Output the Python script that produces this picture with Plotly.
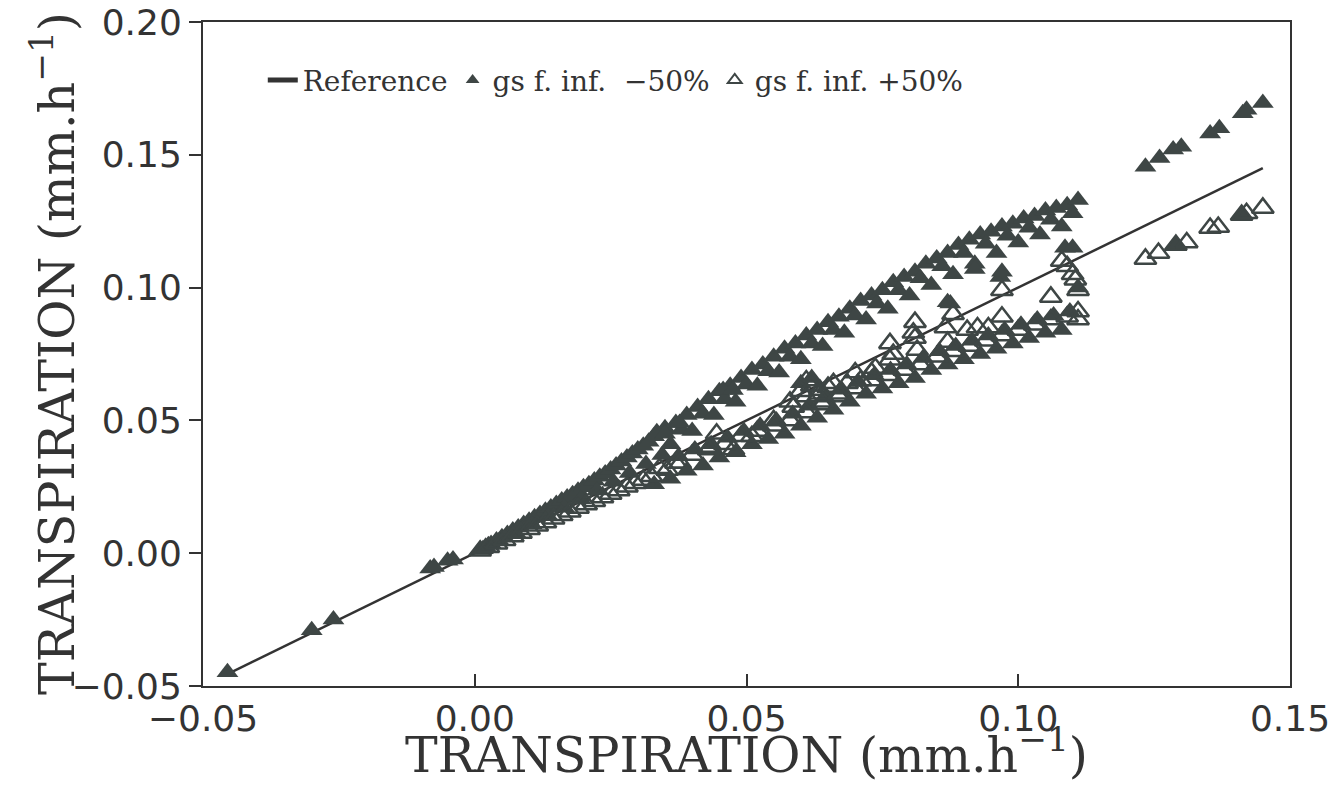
import plotly.graph_objects as go

# ---- data ----
# Reference: simulated vs itself (1:1 line)
ref_x = [-0.0455, -0.030, -0.026, -0.008, -0.005, 0.0, 0.03, 0.06, 0.09, 0.111, 0.1234, 0.145]
ref_y = [-0.0455, -0.030, -0.026, -0.008, -0.005, 0.0, 0.03, 0.06, 0.09, 0.111, 0.1234, 0.145]

# gs f. inf. -50% (filled triangles)
neg_x = [-0.0455, -0.030, -0.026, -0.0082, -0.0075, -0.005, -0.004,
         # dense start, upper row
         0.001, 0.002, 0.003, 0.004, 0.005, 0.006, 0.007, 0.008, 0.009, 0.010,
         0.011, 0.012, 0.013, 0.014, 0.015, 0.016, 0.017, 0.018, 0.019, 0.020,
         0.021, 0.022, 0.023, 0.024, 0.025, 0.026, 0.027, 0.028, 0.029, 0.030,
         0.031, 0.032,
         # dense start, centre row
         0.0015, 0.0045, 0.0075, 0.0105, 0.0135, 0.0165, 0.0195, 0.0225, 0.0255,
         0.0285, 0.0315, 0.0345,
         # upper band, main row
         0.033, 0.035, 0.037, 0.039, 0.041, 0.043, 0.045, 0.047, 0.049, 0.051,
         0.053, 0.055, 0.057, 0.059, 0.061, 0.063, 0.065, 0.067, 0.069, 0.071,
         0.073, 0.075, 0.077, 0.079, 0.081, 0.083, 0.085, 0.087, 0.089, 0.091,
         0.093, 0.095, 0.097, 0.099, 0.101, 0.103, 0.105, 0.107, 0.109, 0.111,
         # upper band, middle row
         0.038, 0.042, 0.046, 0.050, 0.054, 0.058, 0.062, 0.066, 0.070, 0.074,
         0.078, 0.082, 0.086, 0.090, 0.094, 0.098, 0.102, 0.106, 0.110,
         # upper band, lower row
         0.036, 0.040, 0.044, 0.048, 0.052, 0.056, 0.060, 0.064, 0.068, 0.072,
         0.076, 0.080, 0.084, 0.088, 0.092, 0.096, 0.100, 0.104, 0.108,
         # scattered between band and line
         0.0335, 0.035, 0.0377, 0.0457, 0.0475, 0.060, 0.062, 0.0875, 0.087,
         0.092, 0.0967, 0.097, 0.1086, 0.110, 0.111,
         # lower band, bottom row
         0.033, 0.036, 0.039, 0.042, 0.045, 0.048, 0.051, 0.054, 0.057, 0.060,
         0.063, 0.066, 0.069, 0.072, 0.075, 0.078, 0.081, 0.084, 0.087, 0.090,
         0.093, 0.096, 0.099, 0.102, 0.105, 0.108,
         # lower band, second row
         0.0375, 0.0405, 0.0435, 0.0465, 0.0495, 0.0525, 0.0555, 0.0585, 0.0615,
         0.0645, 0.0675, 0.0705, 0.0735, 0.0765, 0.0795, 0.0825, 0.0855, 0.0885,
         0.0915, 0.0945, 0.0975, 0.1005, 0.1035, 0.1065, 0.1095,
         # isolated group upper right
         0.1234, 0.126, 0.1285, 0.130, 0.1353, 0.137, 0.1413, 0.142, 0.145,
         0.129, 0.1411]
neg_y = [-0.0448, -0.029, -0.025, -0.0058, -0.0052, -0.0028, -0.0024,
         0.0012, 0.0024, 0.0035, 0.0048, 0.0060, 0.0072, 0.0085, 0.0097, 0.0110, 0.0122,
         0.0135, 0.0148, 0.0160, 0.0172, 0.0185, 0.0198, 0.0210, 0.0222, 0.0235, 0.0248,
         0.0260, 0.0274, 0.0288, 0.0300, 0.0315, 0.0330, 0.0345, 0.0360, 0.0375, 0.0390,
         0.0405, 0.0420,
         0.0015, 0.0046, 0.0077, 0.0108, 0.0139, 0.0171, 0.0203, 0.0236, 0.0269,
         0.0302, 0.0336, 0.0370,
         0.044, 0.047, 0.049, 0.052, 0.055, 0.058, 0.061, 0.063, 0.066, 0.069,
         0.071, 0.074, 0.077, 0.079, 0.082, 0.084, 0.087, 0.089, 0.092, 0.095,
         0.097, 0.099, 0.102, 0.104, 0.106, 0.109, 0.111, 0.113, 0.116, 0.118,
         0.120, 0.121, 0.123, 0.124, 0.126, 0.127, 0.129, 0.130, 0.131, 0.133,
         0.0465, 0.0525, 0.058, 0.0635, 0.0685, 0.074, 0.079, 0.084, 0.0895, 0.094,
         0.099, 0.1035, 0.108, 0.113, 0.1165, 0.1195, 0.1225, 0.1255, 0.128,
         0.041, 0.046, 0.052, 0.057, 0.063, 0.068, 0.073, 0.078, 0.083, 0.088,
         0.092, 0.097, 0.101, 0.105, 0.109, 0.113, 0.117, 0.120, 0.123,
         0.0455, 0.045, 0.049, 0.0614, 0.0614, 0.064, 0.066, 0.094, 0.0945,
         0.107, 0.104, 0.106, 0.115, 0.115, 0.100,
         0.026, 0.028, 0.031, 0.033, 0.036, 0.038, 0.041, 0.043, 0.045, 0.048,
         0.051, 0.054, 0.057, 0.060, 0.062, 0.064, 0.066, 0.069, 0.071, 0.073,
         0.075, 0.077, 0.079, 0.081, 0.083, 0.084,
         0.0365, 0.039, 0.041, 0.0435, 0.046, 0.048, 0.050, 0.0525, 0.0555,
         0.0585, 0.0615, 0.0645, 0.067, 0.069, 0.071, 0.0735, 0.076, 0.078,
         0.080, 0.082, 0.084, 0.086, 0.088, 0.0895, 0.091,
         0.1455, 0.1488, 0.152, 0.153, 0.158, 0.160, 0.1656, 0.167, 0.1695,
         0.116, 0.1273]

# gs f. inf. +50% (open triangles)
pos_x = [0.001, 0.0025, 0.004, 0.0055, 0.007, 0.0085, 0.010, 0.0115, 0.013,
         0.0145, 0.016, 0.0175, 0.019, 0.0205, 0.022, 0.0235, 0.025, 0.0265,
         0.028, 0.0295, 0.031, 0.0325,
         0.034, 0.037, 0.040, 0.043, 0.046, 0.049, 0.052, 0.055, 0.058, 0.061,
         0.064, 0.067, 0.070, 0.073, 0.076, 0.079, 0.082, 0.085, 0.088, 0.091,
         0.094, 0.097, 0.100, 0.103, 0.106, 0.109, 0.111,
         0.0354, 0.0378, 0.0433, 0.0445, 0.0476, 0.051, 0.055, 0.0586, 0.061,
         0.0635, 0.066, 0.0685, 0.070, 0.0737, 0.0764, 0.077, 0.081, 0.0814,
         0.081, 0.0866, 0.087, 0.088, 0.0906, 0.0925, 0.0945, 0.097, 0.097,
         0.106, 0.108, 0.109, 0.111, 0.111, 0.110, 0.1105,
         0.0807, 0.0764, 0.073, 0.071, 0.065, 0.0635, 0.061, 0.058, 0.060,
         0.062, 0.064, 0.067,
         0.1234, 0.1258, 0.129, 0.131, 0.1353, 0.1368, 0.1411, 0.142, 0.145]
pos_y = [0.0009, 0.0022, 0.0036, 0.0049, 0.0063, 0.0076, 0.0090, 0.0103, 0.0116,
         0.0130, 0.0143, 0.0156, 0.0170, 0.0183, 0.0196, 0.0210, 0.0223, 0.0236,
         0.0250, 0.0263, 0.0276, 0.0290,
         0.032, 0.034, 0.037, 0.039, 0.041, 0.044, 0.046, 0.048, 0.050, 0.053,
         0.056, 0.059, 0.062, 0.065, 0.067, 0.069, 0.071, 0.074, 0.076, 0.078,
         0.080, 0.082, 0.084, 0.086, 0.088, 0.089, 0.091,
         0.0313, 0.034, 0.040, 0.045, 0.039, 0.044, 0.050, 0.055, 0.059,
         0.0614, 0.064, 0.064, 0.068, 0.0697, 0.079, 0.075, 0.081, 0.0765,
         0.087, 0.085, 0.0795, 0.090, 0.084, 0.085, 0.085, 0.089, 0.099,
         0.0965, 0.110, 0.108, 0.099, 0.088, 0.105, 0.103,
         0.083, 0.0728, 0.068, 0.065, 0.0626, 0.060, 0.065, 0.057, 0.061,
         0.063, 0.057, 0.060,
         0.1108, 0.113, 0.116, 0.117, 0.1224, 0.1228, 0.1273, 0.128, 0.130]

axis_title = "TRANSPIRATION (mm.h<sup>\u22121</sup>)"

INK = "#3e4645"
AX = "#333333"

fig = go.Figure()
fig.add_trace(go.Scatter(
    x=ref_x, y=ref_y, mode="lines", name="Reference",
    line=dict(color=AX, width=2.5)))
fig.add_trace(go.Scatter(
    x=neg_x, y=neg_y, mode="markers", name="gs f. inf.\u00a0\u00a0\u221250%",
    marker=dict(symbol="triangle-up", size=19, color=INK, line=dict(width=0))))
fig.add_trace(go.Scatter(
    x=pos_x, y=pos_y, mode="markers", name="gs f. inf. +50%",
    marker=dict(symbol="triangle-up-open", size=19, color=INK, line=dict(width=2.5, color=INK))))

title_font = dict(family="DejaVu Serif, serif", size=49, color=AX)
tick_font = dict(family="DejaVu Sans, sans-serif", size=36, color=AX)

# page body has an 8px margin, so the figure is sized to the remaining viewport
fig.update_layout(
    width=1336, height=799,
    margin=dict(l=195, r=54, t=14, b=121, autoexpand=False),
    paper_bgcolor="white", plot_bgcolor="white",
    showlegend=True,
    legend=dict(
        orientation="h", x=0.055, y=0.95, xanchor="left", yanchor="top",
        bgcolor="rgba(0,0,0,0)",
        font=dict(family="DejaVu Serif, serif", size=28, color=AX),
        itemsizing="constant", itemwidth=30, tracegroupgap=0,
    ),
    annotations=[
        dict(text=axis_title, xref="paper", yref="paper", x=0.5, y=0,
             xanchor="center", yanchor="middle", yshift=-65, showarrow=False,
             font=title_font),
        dict(text=axis_title, xref="paper", yref="paper", x=0, y=0.5,
             xanchor="center", yanchor="middle", xshift=-150, textangle=-90,
             showarrow=False, font=title_font),
    ],
)
fig.update_xaxes(
    range=[-0.05, 0.15], tickvals=[-0.05, 0.0, 0.05, 0.10, 0.15],
    ticktext=["\u22120.05", "0.00", "0.05", "0.10", "0.15"],
    showgrid=False, zeroline=False, automargin=False,
    showline=True, linecolor=AX, linewidth=2, mirror=True,
    ticks="inside", ticklen=12, tickwidth=1.5, tickcolor=AX,
    tickfont=tick_font, ticklabeloverflow="allow",
)
fig.update_yaxes(
    range=[-0.05, 0.20], tickvals=[-0.05, 0.0, 0.05, 0.10, 0.15, 0.20],
    ticktext=["\u22120.05", "0.00", "0.05", "0.10", "0.15", "0.20"],
    showgrid=False, zeroline=False, automargin=False,
    showline=True, linecolor=AX, linewidth=2, mirror=True,
    ticks="outside", ticklen=12, tickwidth=1.5, tickcolor=AX,
    tickfont=tick_font, ticklabeloverflow="allow",
)

fig.write_html("out.html")
